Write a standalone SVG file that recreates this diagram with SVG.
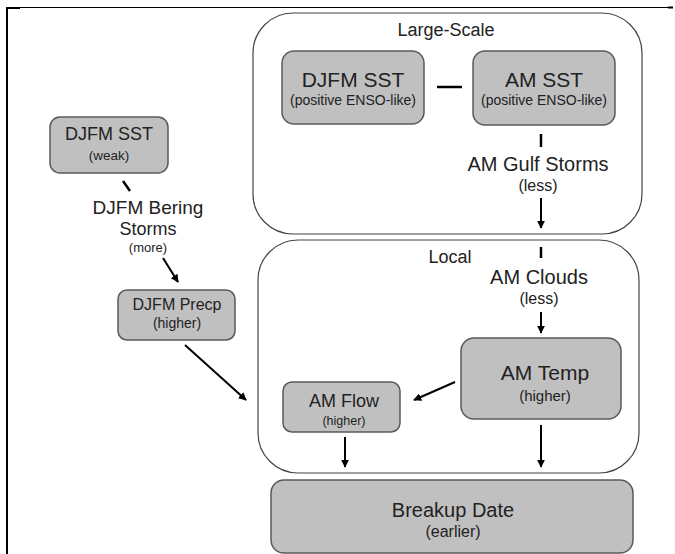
<svg xmlns="http://www.w3.org/2000/svg" width="675" height="554" viewBox="0 0 675 554">
<defs>
<marker id="ah" viewBox="0 0 10 10" refX="9" refY="5" markerWidth="4" markerHeight="4" orient="auto-start-reverse"><path d="M0,0 L10,5 L0,10 z" fill="#000"/></marker>
<style>
text{font-family:"Liberation Sans",Arial,sans-serif;fill:#222;text-anchor:middle}
.node{fill:#c0c0c0;stroke:#595959;stroke-width:1.5}
.grp{fill:#fff;stroke:#444;stroke-width:1.2}
.c{stroke:#000;stroke-width:2.5;fill:none}
.ca{stroke:#000;stroke-width:2;fill:none;marker-end:url(#ah)}
</style>
</defs>
<rect width="675" height="554" fill="#fff"/>
<g id="frame">
<line x1="6" y1="7.5" x2="670" y2="7.5" stroke="#000" stroke-width="1"/>
<line x1="6" y1="8" x2="20" y2="8" stroke="#000" stroke-width="2"/>
<line x1="668" y1="7.5" x2="673" y2="7.5" stroke="#000" stroke-width="2"/>
<line x1="7" y1="7" x2="7" y2="554" stroke="#000" stroke-width="2"/>
</g>
<g id="large-scale">
<rect class="grp" x="253" y="13" width="389" height="221" rx="40"/>
<text x="446" y="36" font-size="18">Large-Scale</text>
</g>
<g id="local">
<rect class="grp" x="258" y="240" width="381" height="233" rx="40"/>
<text x="450" y="263" font-size="18">Local</text>
</g>
<g id="djfm-sst-enso">
<rect class="node" x="282" y="51" width="142" height="73" rx="12"/>
<text x="353" y="87" font-size="21">DJFM SST</text>
<text x="353" y="105" font-size="14">(positive ENSO-like)</text>
</g>
<g id="am-sst">
<rect class="node" x="473" y="51" width="142" height="74" rx="12"/>
<text x="544" y="87" font-size="21">AM SST</text>
<text x="544" y="105" font-size="14">(positive ENSO-like)</text>
</g>
<g id="am-gulf-storms">
<text x="538" y="171" font-size="20">AM Gulf Storms</text>
<text x="538" y="191" font-size="16">(less)</text>
</g>
<g id="djfm-sst-weak">
<rect class="node" x="50" y="117" width="118" height="56" rx="10"/>
<text x="109" y="140" font-size="18">DJFM SST</text>
<text x="109" y="160" font-size="13.5">(weak)</text>
</g>
<g id="djfm-bering-storms">
<text x="148" y="214" font-size="19">DJFM Bering</text>
<text x="148" y="235" font-size="18">Storms</text>
<text x="148" y="252" font-size="13">(more)</text>
</g>
<g id="djfm-precp">
<rect class="node" x="118" y="290" width="117" height="50" rx="9"/>
<text x="177" y="310" font-size="16">DJFM Precp</text>
<text x="177" y="328" font-size="14">(higher)</text>
</g>
<g id="am-clouds">
<text x="539" y="284" font-size="20">AM Clouds</text>
<text x="539" y="304" font-size="16">(less)</text>
</g>
<g id="am-temp">
<rect class="node" x="461" y="338" width="160" height="81" rx="13"/>
<text x="545" y="380" font-size="21">AM Temp</text>
<text x="545" y="401" font-size="15">(higher)</text>
</g>
<g id="am-flow">
<rect class="node" x="283" y="382" width="117" height="50" rx="9"/>
<text x="344" y="407" font-size="18">AM Flow</text>
<text x="344" y="425" font-size="12.5">(higher)</text>
</g>
<g id="breakup-date">
<rect class="node" x="271" y="480" width="362" height="73" rx="13"/>
<text x="453" y="517" font-size="20">Breakup Date</text>
<text x="453" y="537" font-size="16">(earlier)</text>
</g>
<g id="connectors">
<line class="c" x1="437" y1="87" x2="462" y2="87"/>
<line class="c" x1="541" y1="134" x2="541" y2="147"/>
<line class="ca" x1="541" y1="198" x2="541" y2="228"/>
<line class="c" x1="123" y1="181" x2="130" y2="191"/>
<line class="ca" x1="163" y1="258" x2="178" y2="282"/>
<line class="ca" x1="185" y1="345" x2="246" y2="400"/>
<line class="c" x1="541" y1="247" x2="541" y2="258"/>
<line class="ca" x1="541" y1="312" x2="541" y2="333"/>
<line class="ca" x1="455" y1="382" x2="414" y2="400"/>
<line class="ca" x1="345" y1="437" x2="345" y2="467"/>
<line class="ca" x1="541" y1="425" x2="541" y2="467"/>
</g>
</svg>
